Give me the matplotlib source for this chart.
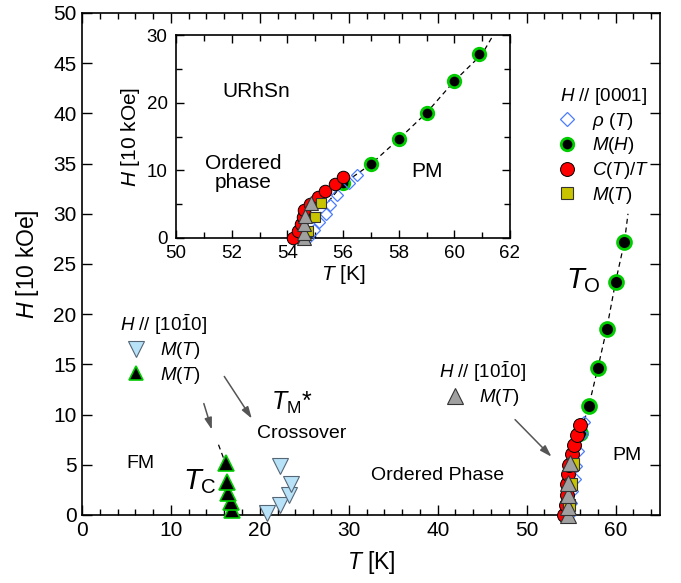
import matplotlib
matplotlib.use("Agg")
import matplotlib.pyplot as plt
from matplotlib.lines import Line2D
from matplotlib.legend import Legend
from matplotlib.ticker import MultipleLocator

plt.rcParams['font.family'] = ['Liberation Sans', 'DejaVu Sans']
plt.rcParams['mathtext.fontset'] = 'custom'
plt.rcParams['mathtext.rm'] = 'Liberation Sans'
plt.rcParams['mathtext.it'] = 'Liberation Sans:italic'
plt.rcParams['mathtext.bf'] = 'Liberation Sans:bold'

# ---------------- data ----------------
# H // [0001]
rho_T = [54.75, 54.95, 55.15, 55.4, 55.55, 55.8, 56.2, 56.5]
rho_H = [0.0, 1.2, 2.4, 3.6, 4.9, 6.4, 8.1, 9.3]
MH_T = [56.0, 57.0, 58.0, 59.0, 60.0, 60.9]
MH_H = [8.2, 10.9, 14.6, 18.5, 23.2, 27.2]
CT_T = [54.2, 54.4, 54.5, 54.55, 54.6, 54.8, 55.1, 55.35, 55.7, 56.0]
CT_H = [0.0, 1.0, 2.0, 3.1, 4.1, 5.0, 6.1, 7.0, 8.0, 9.0]
MT0001_T = [54.75, 55.0, 55.2]
MT0001_H = [1.0, 3.1, 5.1]
# H // [10-10]  (T_O region)
MTa_T = [54.6, 54.6, 54.6, 54.65, 54.85]
MTa_H = [0.0, 0.8, 2.0, 3.2, 5.2]
# H // [10-10]  low T
TM_T = [20.75, 22.25, 23.3, 23.55, 22.3]
TM_H = [0.2, 1.0, 2.0, 3.05, 4.9]
TC_T = [16.9, 16.7, 16.4, 16.3, 16.2]
TC_H = [0.5, 1.3, 2.2, 3.3, 5.2]
# guide lines
TO_guide_T = [54.6, 55.0, 55.5, 56.0, 57.0, 58.0, 59.0, 60.0, 61.0, 61.4]
TO_guide_H = [0.0, 2.5, 5.5, 8.0, 10.9, 14.6, 18.5, 23.2, 27.2, 30.0]
TC_guide_T = [15.35, 16.2]
TC_guide_H = [7.0, 5.0]
# arrows (start T, start H, end T, end H)
arrows = [(13.7, 11.1, 14.6, 8.5), (16.0, 13.8, 19.1, 9.6), (48.7, 9.5, 52.8, 5.8)]

# ---------------- styles ----------------
c_green = '#00cc00'
c_red = '#ff0000'
c_blue = '#4a7cff'
c_yel = '#c8c400'
c_gray = '#a0a0a0'
c_lblue = '#b8e2f8'
edge = '#333333'

W, Hh = 681, 583
fig = plt.figure(figsize=(W / 100, Hh / 100), dpi=100)
ax = fig.add_axes([82 / W, 1 - 515 / Hh, 578 / W, 502 / Hh])


def style_0001(a, s):
    a.plot(TO_guide_T, TO_guide_H, ls=(0, (4, 3)), color='k', lw=0.9, zorder=2)
    a.plot(MH_T, MH_H, 'o', ms=10 * s, mfc='k', mec=c_green, mew=2.0, zorder=3, clip_on=False)
    a.plot(rho_T, rho_H, 'D', ms=6.5 * s, mfc='none', mec=c_blue, mew=0.9, zorder=4, clip_on=False)
    a.plot(CT_T, CT_H, 'o', ms=10 * s, mfc=c_red, mec='k', mew=0.7, zorder=5, clip_on=False)
    a.plot(MT0001_T, MT0001_H, 's', ms=8 * s, mfc=c_yel, mec=edge, mew=0.8, zorder=6, clip_on=False)
    a.plot(MTa_T, MTa_H, '^', ms=11 * s, mfc=c_gray, mec=edge, mew=0.8, zorder=7, clip_on=False)


# main axes
style_0001(ax, 1.0)
ax.plot(TC_guide_T, TC_guide_H, ls=(0, (4, 3)), color='k', lw=0.9, zorder=2)
ax.plot(TC_T, TC_H, '^', ms=11, mfc='k', mec=c_green, mew=1.2, zorder=5, clip_on=False)
ax.plot(TM_T, TM_H, 'v', ms=12, mfc=c_lblue, mec='#556677', mew=0.8, zorder=5, clip_on=False)

for t0, h0, t1, h1 in arrows:
    ax.annotate('', xy=(t1, h1), xytext=(t0, h0),
                arrowprops=dict(arrowstyle='-|>,head_length=0.7,head_width=0.22',
                                color='#555555', lw=1.1, shrinkA=0, shrinkB=0))

ax.set_xlim(0, 65)
ax.set_ylim(0, 50)
ax.xaxis.set_major_locator(MultipleLocator(10))
ax.xaxis.set_minor_locator(MultipleLocator(2))
ax.yaxis.set_major_locator(MultipleLocator(5))
ax.tick_params(which='both', direction='in', top=True, right=True, labelsize=15, pad=4)
ax.tick_params(which='major', length=7, width=1)
ax.tick_params(which='minor', length=4, width=1)
for sp in ax.spines.values():
    sp.set_linewidth(1.2)
ax.set_xlabel(r'$T$ [K]', fontsize=16.5, labelpad=7)
ax.set_ylabel(r'$H$ [10 kOe]', fontsize=16.5, labelpad=9)


def ftxt(x, y, s, fs, **kw):
    fig.text(x / W, 1 - y / Hh, s, fontsize=fs, ha='center', va='center', **kw)


ftxt(140, 464, 'FM', 14)
ftxt(200, 482, r'$T_\mathrm{C}$', 21)
ftxt(292, 403, r'$T_\mathrm{M}$*', 18)
ftxt(302, 433, 'Crossover', 14)
ftxt(438, 475, 'Ordered Phase', 14)
ftxt(627, 455, 'PM', 14)
ftxt(583, 281, r'$T_\mathrm{O}$', 21)


# legends
def mk_legend(a, handles, labels, title, xpx, ypx):
    lg = Legend(a, handles, labels, title=title, loc='upper left',
                bbox_to_anchor=(xpx / W, 1 - ypx / Hh), bbox_transform=fig.transFigure,
                frameon=False, fontsize=13.5, title_fontsize=13.5, borderpad=0,
                handlelength=1.0, handletextpad=0.8, labelspacing=0.2, borderaxespad=0)
    a.add_artist(lg)
    return lg


h_rho = Line2D([], [], ls='none', marker='D', ms=7.5, mfc='none', mec=c_blue, mew=0.9)
h_mh = Line2D([], [], ls='none', marker='o', ms=9, mfc='k', mec=c_green, mew=2)
h_ct = Line2D([], [], ls='none', marker='o', ms=10, mfc=c_red, mec='k', mew=0.7)
h_mt = Line2D([], [], ls='none', marker='s', ms=9, mfc=c_yel, mec=edge, mew=0.8)
h_ga = Line2D([], [], ls='none', marker='^', ms=11, mfc=c_gray, mec=edge, mew=0.8)
h_tm = Line2D([], [], ls='none', marker='v', ms=11, mfc=c_lblue, mec='#556677', mew=0.8)
h_tc = Line2D([], [], ls='none', marker='^', ms=10, mfc='k', mec=c_green, mew=1.2)

t1010 = r'$H$ // [10$\mathrm{\bar{1}}$0]'
mk_legend(ax, [h_rho, h_mh, h_ct, h_mt],
          [r'$\rho$ ($T$)', r'$M$($H$)', r'$C$($T$)/$T$', r'$M$($T$)'],
          r'$H$ // [0001]', 558, 86)
mk_legend(ax, [h_tm, h_tc], [r'$M$($T$)', r'$M$($T$)'], t1010, 120, 312)
mk_legend(ax, [h_ga], [r'$M$($T$)'], t1010, 439, 359)

# inset
ins = fig.add_axes([176 / W, 1 - 238 / Hh, 334 / W, 203 / Hh])
ins.set_zorder(5)
style_0001(ins, 0.9)
ins.set_xlim(50, 62)
ins.set_ylim(0, 30)
ins.xaxis.set_major_locator(MultipleLocator(2))
ins.xaxis.set_minor_locator(MultipleLocator(1))
ins.yaxis.set_major_locator(MultipleLocator(10))
ins.yaxis.set_minor_locator(MultipleLocator(5))
ins.tick_params(which='both', direction='in', top=True, right=True, labelsize=13.5)
ins.tick_params(axis='x', pad=5)
ins.tick_params(axis='y', pad=6)
ins.tick_params(which='major', length=6, width=1)
ins.tick_params(which='minor', length=4, width=1)
for sp in ins.spines.values():
    sp.set_linewidth(1.2)
ins.set_xlabel(r'$T$ [K]', fontsize=15, labelpad=1)
ins.set_ylabel(r'$H$ [10 kOe]', fontsize=15, labelpad=3)
ins.text(0.24, 0.72, 'URhSn', transform=ins.transAxes, fontsize=15, ha='center', va='center')
ins.text(0.20, 0.32, 'Ordered\nphase', transform=ins.transAxes, fontsize=15, ha='center', va='center',
         linespacing=1.05)
ins.text(0.75, 0.33, 'PM', transform=ins.transAxes, fontsize=15, ha='center', va='center')

fig.savefig('out.png', dpi=100)
